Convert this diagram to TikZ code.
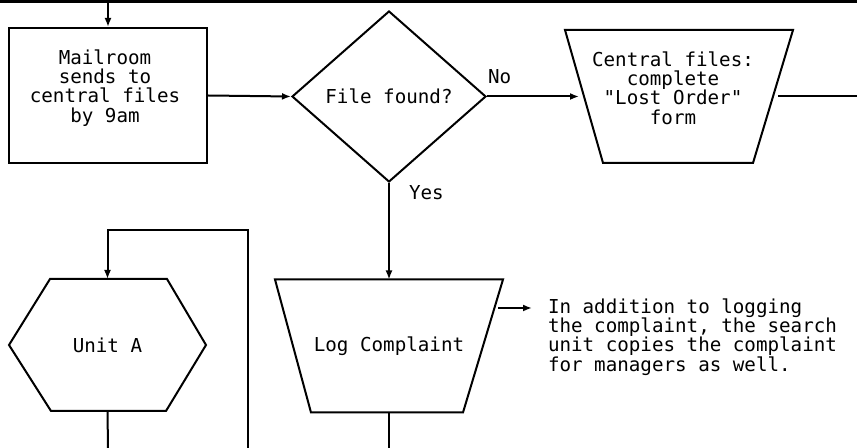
\documentclass[tikz,border=0pt]{standalone}
\usepackage{fontspec}
\setmonofont{DejaVu Sans Mono}
\usetikzlibrary{shapes.geometric,arrows.meta,positioning}

\begin{document}
\begin{tikzpicture}[x=0.5pt, y=-0.5pt, line width=1pt,
  every node/.style={font=\ttfamily\fontsize{9.6}{9.6}\selectfont},
  box/.style={draw, shape=rectangle, minimum width=99pt, minimum height=67.5pt, inner sep=0pt},
  query/.style={draw, shape=diamond, minimum width=97pt, minimum height=85.5pt, inner sep=0pt},
  tray/.style={inner sep=0pt, outer sep=0pt, minimum width=114pt, minimum height=66.5pt},
  lines/.style={align=center, inner sep=0pt},
  flow/.style={-{Latex[length=4.5pt,width=3.5pt]}}]
\useasboundingbox (0,0) rectangle (857,448);

% shapes
\node[box] (21) at (108,95.5) {};
\node[lines] (31) at (105,88) {Mailroom\\sends to\\central files\\by 9am};
\node[query] (22) at (389,96.5) {File found?};
\node[tray] (23) at (679,96.5) {};
\draw (23.north west) -- (23.north east) -- ([xshift=-20pt]23.south east)
  -- ([xshift=19pt]23.south west) -- cycle;
\node[lines] (33) at (673,88) {Central files:\\complete\\"Lost Order"\\form};
\node[tray] (24) at (389,346) {Log Complaint};
\draw (24.north west) -- (24.north east) -- ([xshift=-20pt]24.south east)
  -- ([xshift=18pt]24.south west) -- cycle;
\node[inner sep=0pt, outer sep=0pt, minimum width=98.5pt, minimum height=66pt] (25) at (107.5,345) {Unit A};
\draw (25.west) -- ([xshift=20.5pt]25.north west) -- ([xshift=-19.5pt]25.north east)
  -- (25.east) -- ([xshift=-20pt]25.south east) -- ([xshift=21pt]25.south west) -- cycle;
\node[anchor=west, align=left, inner sep=0pt] (41) at (547,337)
  {In addition to logging\\the complaint, the search\\unit copies the complaint\\for managers as well.};
\node[anchor=west, inner sep=0pt] (61) at (487,77) {No};
\node[anchor=west, inner sep=0pt] (62) at (408,193) {Yes};

% free ends
\coordinate (56) at (0,1.5);
\coordinate (57) at (857,1.5);
\coordinate (58) at (108,1.5);
\coordinate (55) at (857,96.5);
\coordinate (42) at (498,308);
\coordinate (43) at (532,308);
\coordinate (51) at (248,448);
\coordinate (52) at (248,230);
\coordinate (53) at (108,448);
\coordinate (54) at (389,448);

% connectors
\draw[line width=1.5pt] (56) -- (57);
\draw[flow] (58) -- (21.north);
\draw[flow] (21.east) -- (22.west);
\draw[flow] (22.east) -- ([xshift=7pt]23.west);
\draw ([xshift=-7.5pt]23.east) -- (55);
\draw[flow] (22.south) -- (24.north);
\draw[flow] (42) -- (43);
\draw (24.south) -- (54);
\draw (25.south) -- (53);
\draw[flow] (51) -- (52) -| (25.north);
\end{tikzpicture}
\end{document}
